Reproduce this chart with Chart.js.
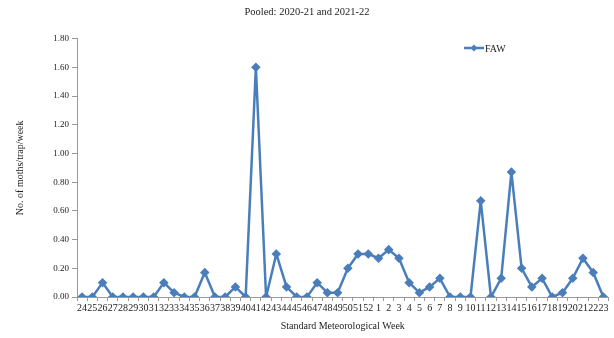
<!DOCTYPE html>
<html>
<head>
<meta charset="utf-8">
<script src="https://cdn.jsdelivr.net/npm/chart.js@4"></script>
<style>
  body { margin: 0; background: #fff; }
  #wrap { width: 614px; height: 338px; }
</style>
</head>
<body>
<div id="wrap"><canvas id="mainChart"></canvas></div>
<script>
// Standard meteorological weeks (2020-21 and 2021-22 pooled)
const weeks = [
  "24", "25", "26", "27", "28", "29", "30", "31", "32", "33", "34", "35", "36", "37", "38",
  "39", "40", "41", "42", "43", "44", "45", "46", "47", "48", "49", "50", "51", "52",
  "1", "2", "3", "4", "5", "6", "7", "8", "9", "10", "11", "12", "13", "14", "15", "16",
  "17", "18", "19", "20", "21", "22", "23"
];
// moths/trap/week
const faw = [
  0, 0, 0.10, 0, 0, 0, 0, 0, 0.10, 0.03, 0, 0, 0.17, 0, 0,
  0.07, 0, 1.60, 0, 0.30, 0.07, 0, 0, 0.10, 0.03, 0.03, 0.20, 0.30, 0.30,
  0.27, 0.33, 0.27, 0.10, 0.03, 0.07, 0.13, 0, 0, 0, 0.67, 0, 0.13, 0.87, 0.20, 0.07,
  0.13, 0, 0.03, 0.13, 0.27, 0.17, 0
];
const yTicks = [0, 0.2, 0.4, 0.6, 0.8, 1.0, 1.2, 1.4, 1.6, 1.8];

const blue = "#4a7ebb";
const font = "Liberation Serif";

// legend drawn inside the plot, like the original
const legendInside = {
  id: "legendInside",
  afterDraw(chart) {
    const ctx = chart.ctx;
    const y = 48;
    ctx.save();
    ctx.strokeStyle = blue;
    ctx.lineWidth = 2.5;
    ctx.beginPath();
    ctx.moveTo(464, y);
    ctx.lineTo(484, y);
    ctx.stroke();
    ctx.fillStyle = blue;
    ctx.beginPath();
    ctx.moveTo(474, y - 3.5);
    ctx.lineTo(477.5, y);
    ctx.lineTo(474, y + 3.5);
    ctx.lineTo(470.5, y);
    ctx.closePath();
    ctx.fill();
    ctx.fillStyle = "#222";
    ctx.font = "10px " + font;
    ctx.textBaseline = "middle";
    ctx.fillText("FAW", 485, y + 1);
    ctx.restore();
  }
};

let config = {
  type: "line",
  data: {
    labels: weeks,
    datasets: [
      {
        label: "FAW",
        data: faw,
        borderColor: blue,
        backgroundColor: blue,
        borderWidth: 2.5,
        borderJoinStyle: "round",
        pointStyle: "rectRot",
        pointRadius: 3,
        pointHoverRadius: 3,
        tension: 0,
      },
    ],
  },
  options: {
    responsive: true,
    maintainAspectRatio: false,
    animation: false,
    layout: { padding: { left: 0, right: 0, top: 0, bottom: 6 } },
    plugins: {
      legend: { display: false },
      tooltip: { enabled: false },
      title: {
        display: true,
        text: "Pooled: 2020-21 and 2021-22",
        color: "#222",
        font: { family: font, size: 10.5, weight: "normal" },
        padding: { top: 6, bottom: 20 },
      },
    },
    scales: {
      x: {
        offset: true,
        grid: {
          display: true,
          drawOnChartArea: false,
          offset: true,
          tickLength: 4,
          color: "#999",
        },
        border: { color: "#999" },
        ticks: {
          autoSkip: false,
          maxRotation: 0,
          minRotation: 0,
          padding: 1,
          color: "#222",
          font: { family: font, size: 10 },
        },
        title: {
          display: true,
          text: "Standard Meteorological Week",
          color: "#222",
          font: { family: font, size: 10 },
          padding: { top: 5, bottom: 0 },
        },
      },
      y: {
        min: 0,
        max: 1.8,
        afterBuildTicks(scale) {
          scale.ticks = yTicks.map((v) => ({ value: v }));
        },
        afterFit(scale) {
          scale.width = 77;
        },
        grid: {
          display: true,
          drawOnChartArea: false,
          tickLength: 5,
          color: "#999",
        },
        border: { color: "#999" },
        ticks: {
          color: "#222",
          padding: 3,
          font: { family: font, size: 9 },
          callback: (v) => Number(v).toFixed(2),
        },
        title: {
          display: true,
          text: "No. of moths/trap/week",
          color: "#222",
          font: { family: font, size: 10 },
          padding: { top: 14, bottom: 18 },
        },
      },
    },
  },
  plugins: [legendInside],
};

let mainChart = new Chart(document.getElementById("mainChart"), config);
</script>
</body>
</html>
